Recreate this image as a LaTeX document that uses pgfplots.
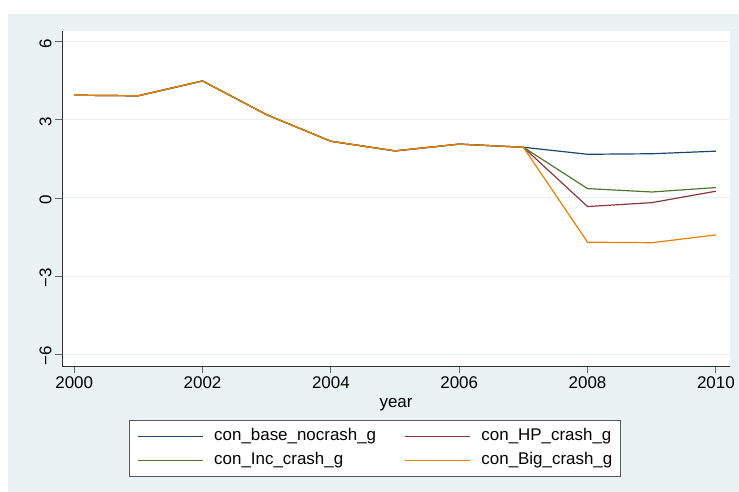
\documentclass[border=0pt]{standalone}
\usepackage{pgfplots}
\pgfplotsset{compat=1.18}
\usepackage{fontspec}
\setmainfont{Liberation Sans}
\definecolor{bgc}{RGB}{234,242,243}
\definecolor{gridc}{RGB}{232,240,242}
\definecolor{snavy}{RGB}{26,71,111}
\definecolor{smaroon}{RGB}{144,53,59}
\definecolor{sgreen}{RGB}{85,117,47}
\definecolor{sorange}{RGB}{232,128,0}
\begin{document}
\begin{tikzpicture}[x=1bp,y=1bp]
\useasboundingbox (0,0) rectangle (739,492);
\fill[bgc] (8,0) rectangle (739,478);
\begin{axis}[
  at={(62bp,126bp)}, anchor=south west,
  width=668bp, height=335bp, scale only axis,
  axis background/.style={fill=white},
  font=\fontsize{17}{20}\selectfont,
  xmin=1999.81, xmax=2010.22,
  ymin=-6.46, ymax=6.42,
  axis x line*=bottom, axis y line*=left,
  axis line style={draw=black!80, line width=0.9pt},
  xtick={2000,2002,2004,2006,2008,2010},
  xticklabels={2000,2002,2004,2006,2008,2010},
  ytick={-6,-3,0,3,6},
  yticklabels={−6,−3,0,3,6},
  yticklabel style={rotate=90, anchor=south, xshift=-2bp},
  tick align=outside, major tick length=7bp,
  tick style={draw=black!60, line width=0.9pt},
  ymajorgrids, grid style={draw=gridc, line width=1pt},
  xlabel={year}, xlabel style={yshift=-3bp},
  legend columns=2,
  legend cell align=left,
  legend style={at={(axis description cs:0.468,-0.161)}, anchor=north,
    draw=black!65, line width=0.8pt, fill=white,
    inner xsep=8bp, inner ysep=8bp,
    nodes={inner sep=0pt, text height=12bp, text depth=4bp},
    row sep=8bp,
    font=\fontsize{17}{20}\selectfont},
  /tikz/every odd column/.append style={column sep=11bp},
  /tikz/every even column/.append style={column sep=28bp},
  legend image code/.code={\draw[#1, line width=1.3pt] (0bp,0bp) -- (65bp,0bp);},
  every axis plot/.append style={line width=1.2pt},
]
\addplot[snavy] coordinates {(2000,3.95) (2001,3.93) (2002,4.50) (2003,3.20) (2004,2.18) (2005,1.81) (2006,2.07) (2007,1.95) (2008,1.68) (2009,1.70) (2010,1.80)};
\addlegendentry{con\_base\_nocrash\_g}
\addplot[smaroon] coordinates {(2000,3.95) (2001,3.93) (2002,4.50) (2003,3.20) (2004,2.18) (2005,1.81) (2006,2.07) (2007,1.95) (2008,-0.33) (2009,-0.18) (2010,0.26)};
\addlegendentry{con\_HP\_crash\_g}
\addplot[sgreen] coordinates {(2000,3.95) (2001,3.93) (2002,4.50) (2003,3.20) (2004,2.18) (2005,1.81) (2006,2.07) (2007,1.95) (2008,0.36) (2009,0.23) (2010,0.40)};
\addlegendentry{con\_Inc\_crash\_g}
\addplot[sorange] coordinates {(2000,3.95) (2001,3.93) (2002,4.50) (2003,3.20) (2004,2.18) (2005,1.81) (2006,2.07) (2007,1.95) (2008,-1.70) (2009,-1.72) (2010,-1.42)};
\addlegendentry{con\_Big\_crash\_g}
\end{axis}
\end{tikzpicture}
\end{document}
